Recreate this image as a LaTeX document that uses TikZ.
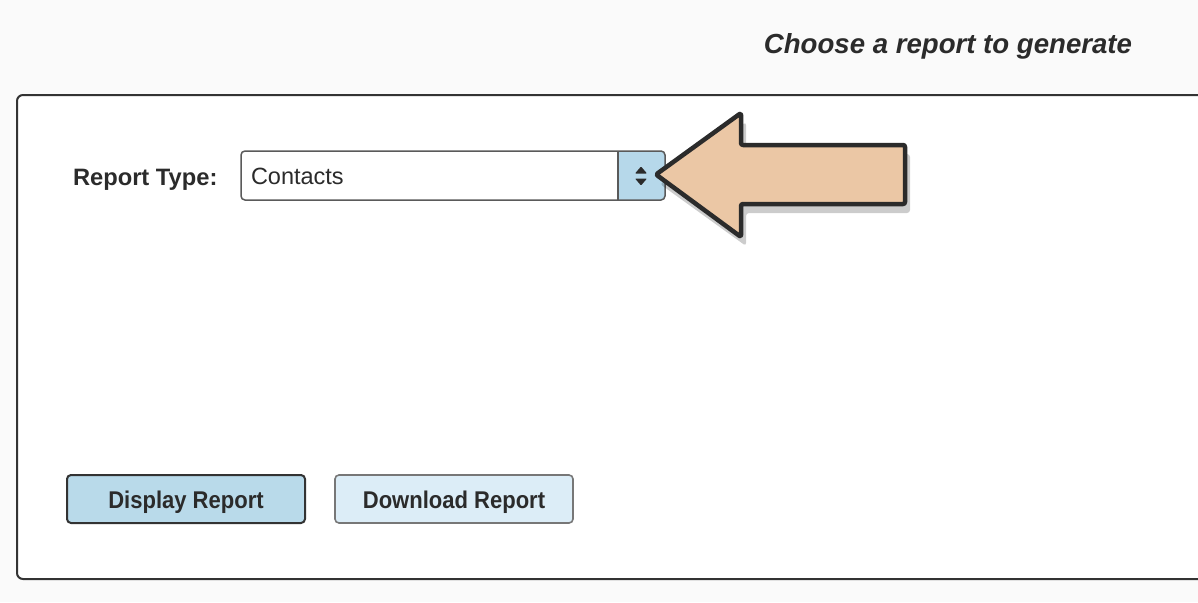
\documentclass[tikz,border=0pt]{standalone}
\usepackage{fontspec}
\setmainfont{Liberation Sans}
\newfontfamily\btnfont[FakeStretch=0.91]{Liberation Sans}
\definecolor{bgc}{HTML}{FAFAFA}
\definecolor{ink}{HTML}{2B2B2B}
\definecolor{edge}{HTML}{333333}
\definecolor{selb}{HTML}{5A5A5A}
\definecolor{stepc}{HTML}{B6D8EA}
\definecolor{btnA}{HTML}{B9DAEA}
\definecolor{btnB}{HTML}{DCEDF7}
\definecolor{btnBedge}{HTML}{777777}
\definecolor{arrowc}{HTML}{EBC7A5}
\tikzset{
  txt/.style={inner sep=0pt, outer sep=0pt, text=ink},
  btn/.style={draw, line width=2pt, rounded corners=4pt, minimum width=238pt, minimum height=48pt,
    inner sep=0pt, text height=18.6pt, text depth=0pt, text=ink,
    font=\btnfont\bfseries\fontsize{24.2}{28}\selectfont},
}
\begin{document}
\begin{tikzpicture}[x=1pt,y=-1pt]
\useasboundingbox (0,0) rectangle (1198,602);
\clip (0,0) rectangle (1198,602);
\fill[bgc] (0,0) rectangle (1198,602);
% panel
\draw[edge, fill=white, line width=2pt, rounded corners=6pt] (17,95) rectangle (1220,579);
% title
\node[txt, anchor=base east, font=\bfseries\itshape\fontsize{27.6}{32}\selectfont] (title) at (1132,53) {Choose a report to generate};
% label
\node[txt, anchor=base west, font=\bfseries\fontsize{23.7}{28}\selectfont] (lbl) at (73,185) {Report Type:};
% select box
\begin{scope}
  \clip[rounded corners=4pt] (241,151) rectangle (665,200);
  \fill[white] (241,151) rectangle (665,200);
  \fill[stepc] (618,151) rectangle (665,200);
\end{scope}
\draw[selb, line width=1.3pt] (618,151) -- (618,200);
\draw[selb, line width=1.5pt, rounded corners=4pt] (241,151) rectangle (665,200);
\node[txt, anchor=base west, font=\fontsize{23.5}{28}\selectfont] (sel) at (251,184.3) {Contacts};
\fill[ink, rounded corners=0.8pt] (635,173.5) -- (641,166.5) -- (647,173.5) -- cycle;
\fill[ink, rounded corners=0.8pt] (635,178.5) -- (641,185.5) -- (647,178.5) -- cycle;
% arrow shadow
\fill[black, opacity=0.2, line join=round, rounded corners=3pt]
  (660,184) -- (746,122) -- (746,154) -- (910,154) -- (910,213) -- (746,213) -- (746,246) -- cycle;
% arrow
\draw[ink, fill=arrowc, line width=4.5pt, line join=round, rounded corners=2pt]
  (656,174.5) -- (741,113) -- (741,145) -- (905,145) -- (905,204) -- (741,204) -- (741,237) -- cycle;
% buttons
\node[btn, draw=edge, fill=btnA] (disp) at (186,499) {Display Report};
\node[btn, draw=btnBedge, fill=btnB, line width=1.6pt] (down) at (454,499) {Download Report};
\end{tikzpicture}
\end{document}
